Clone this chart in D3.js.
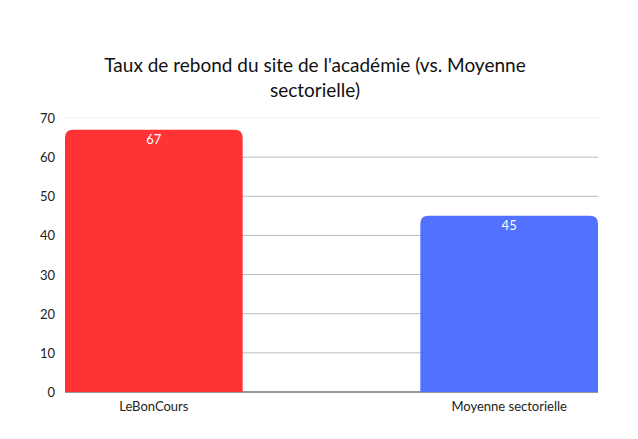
<!DOCTYPE html>
<html><head><meta charset="utf-8">
<script src="https://cdn.jsdelivr.net/npm/d3@7"></script>
<style>body{margin:0;background:#fff}</style></head>
<body><svg id="c" width="638" height="439"></svg>
<script>
const categories = ["LeBonCours", "Moyenne sectorielle"];
const values = [67, 45];
const colors = ["#FF3333", "#5271FF"];
const yTicks = [0, 10, 20, 30, 40, 50, 60, 70];
const titleLines = ["Taux de rebond du site de l'académie (vs. Moyenne", "sectorielle)"];

const svg = d3.select("#c");
const font = "Lato, 'Open Sans', sans-serif";
const x = d3.scaleBand().domain(categories).range([65, 598]).paddingInner(0.5).paddingOuter(0);
const y = d3.scaleLinear().domain([0, 70]).range([392, 118]);

svg.append("g").selectAll("text").data(titleLines).join("text")
  .attr("x", 315).attr("y", (d, i) => 72 + i * 25).attr("text-anchor", "middle")
  .attr("font-family", font).attr("font-size", 19).attr("fill", "#111").text(d => d);

svg.append("g").selectAll("line").data(yTicks).join("line")
  .attr("x1", 65).attr("x2", 598).attr("y1", d => y(d)).attr("y2", d => y(d))
  .attr("stroke", d => d === 70 ? "#eee" : (d === 0 ? "#333" : "#bbb")).attr("stroke-width", 1);

svg.append("g").selectAll("text").data(yTicks).join("text")
  .attr("x", 55).attr("y", d => y(d) + 5).attr("text-anchor", "end")
  .attr("font-family", font).attr("font-size", 13).attr("fill", "#222").text(d => d);

const r = 8;
svg.append("g").selectAll("path").data(values).join("path")
  .attr("fill", (d, i) => colors[i])
  .attr("d", (d, i) => {
    const x0 = x(categories[i]), w = x.bandwidth(), yt = y(d), yb = y(0);
    return `M${x0},${yb}V${yt + r}Q${x0},${yt} ${x0 + r},${yt}H${x0 + w - r}Q${x0 + w},${yt} ${x0 + w},${yt + r}V${yb}Z`;
  });

svg.append("g").selectAll("text").data(values).join("text")
  .attr("x", (d, i) => x(categories[i]) + x.bandwidth() / 2).attr("y", d => y(d) + 14)
  .attr("text-anchor", "middle").attr("font-family", font).attr("font-size", 13)
  .attr("fill", "#fff").text(d => d);

svg.append("g").selectAll("text").data(categories).join("text")
  .attr("x", d => x(d) + x.bandwidth() / 2).attr("y", 411).attr("text-anchor", "middle")
  .attr("font-family", font).attr("font-size", 13).attr("fill", "#222").text(d => d);
</script></body></html>
